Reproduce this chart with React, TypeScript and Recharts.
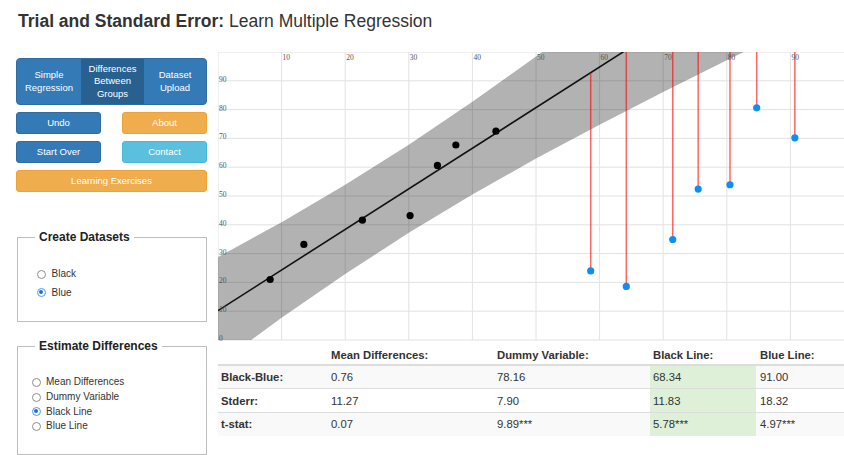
import React from 'react';
import { ComposedChart, Area, Line, Scatter, XAxis, YAxis, CartesianGrid } from 'recharts';

// axis ticks
const xTicks = [0, 10, 20, 30, 40, 50, 60, 70, 80, 90, 100];
const yTicks = [0, 10, 20, 30, 40, 50, 60, 70, 80, 90, 100];

// grey confidence band around the black line
const bandX = [0, 10, 20, 30, 40, 50, 60, 70, 80, 90, 100];
const bandLow = [-8.4, 7.7, 22.9, 37.2, 50.5, 63.0, 74.7, 86.1, 97.1, 108, 119];
const bandHigh = [28.8, 40.9, 53.9, 67.8, 82.7, 98.4, 114.9, 131.7, 148.9, 166, 183];

// black regression line end points
const fitX = [0, 100];
const fitY = [10.2, 151.2];

// black dataset
const blackX = [8.2, 13.5, 22.7, 30.2, 34.5, 37.4, 43.7];
const blackY = [21.0, 33.2, 41.6, 43.2, 60.6, 67.7, 72.5];

// blue dataset
const blueX = [58.6, 64.2, 71.5, 75.5, 80.5, 84.7, 90.7];
const blueY = [24.0, 18.6, 34.9, 52.4, 53.9, 80.6, 70.2];

// results table
const rowLabels = ['Black-Blue:', 'Stderr:', 't-stat:'];
const colHeaders = ['Mean Differences:', 'Dummy Variable:', 'Black Line:', 'Blue Line:'];
const meanDiff = ['0.76', '11.27', '0.07'];
const dummyVar = ['78.16', '7.90', '9.89***'];
const blackLine = ['68.34', '11.83', '5.78***'];
const blueLine = ['91.00', '18.32', '4.97***'];

const bandData = bandX.map((x, i) => ({ x, band: [bandLow[i], bandHigh[i]] }));
const fitData = fitX.map((x, i) => ({ x, y: fitY[i] }));
const blackData = blackX.map((x, i) => ({ x, y: blackY[i] }));
const blueData = blueX.map((x, i) => ({ x, y: blueY[i] }));

const fitAt = (x: number) => fitY[0] + ((fitY[1] - fitY[0]) * (x - fitX[0])) / (fitX[1] - fitX[0]);
// residual segments, separated by null rows so they don't join
const residData = blueX.flatMap((x, i) => [
  { x, y: blueY[i] },
  { x, y: fitAt(x) },
  { x, y: null },
]);

const FONT = '"Liberation Sans", Arial, Helvetica, sans-serif';
const TICK_FONT = '"Liberation Serif", "Times New Roman", serif';

const xTick = (props: any) => {
  const v = props.payload.value;
  if (v === 0 || v === 100) return <g />;
  return (
    <text x={props.x + 1} y={8} fontSize={7.5} fontFamily={TICK_FONT} fill="#555">
      {v}
    </text>
  );
};

const yTick = (props: any) => {
  const v = props.payload.value;
  if (v === 100) return <g />;
  return (
    <text x={1} y={props.y + 1} fontSize={7.5} fontFamily={TICK_FONT} fill="#555">
      {v}
    </text>
  );
};

const Txt = ({ x, cy, children, style }: any) => (
  <div
    style={{
      position: 'absolute',
      left: x,
      top: cy - 8,
      height: 16,
      lineHeight: '16px',
      whiteSpace: 'nowrap',
      ...style,
    }}
  >
    {children}
  </div>
);

const Btn = ({ left, top, width, height, bg, border, children, radius = 3 }: any) => (
  <div
    style={{
      position: 'absolute',
      left,
      top,
      width,
      height,
      background: bg,
      border: `1px solid ${border}`,
      borderRadius: radius,
      boxSizing: 'border-box',
      color: '#fff',
      fontSize: 9.5,
      lineHeight: '12.5px',
      display: 'flex',
      alignItems: 'center',
      justifyContent: 'center',
      textAlign: 'center',
    }}
  >
    {children}
  </div>
);

const Radio = ({ cx, cy, checked, label, gap = 10.5 }: any) => (
  <>
    <div
      style={{
        position: 'absolute',
        left: cx - 4.5,
        top: cy - 4.5,
        width: 9,
        height: 9,
        borderRadius: '50%',
        boxSizing: 'border-box',
        border: checked ? '1.5px solid #4b9bf2' : '1px solid #8d8d8d',
        background: '#fff',
      }}
    >
      {checked && (
        <div
          style={{
            position: 'absolute',
            left: 1,
            top: 1,
            width: 4,
            height: 4,
            borderRadius: '50%',
            background: '#1673e6',
          }}
        />
      )}
    </div>
    <Txt x={cx + gap} cy={cy} style={{ fontSize: 10, color: '#333' }}>
      {label}
    </Txt>
  </>
);

const Fieldset = ({ left, top, width, height, legend, legendX }: any) => (
  <>
    <div
      style={{
        position: 'absolute',
        left,
        top,
        width,
        height,
        border: '1px solid #bdbdbd',
        boxSizing: 'border-box',
      }}
    />
    <Txt
      x={legendX}
      cy={top}
      style={{ fontSize: 12, fontWeight: 'bold', color: '#222', background: '#fff', padding: '0 4px' }}
    >
      {legend}
    </Txt>
  </>
);

const colX = [331, 497, 653, 760];
const colVals = [meanDiff, dummyVar, blackLine, blueLine];
const rowCy = [377.3, 400.7, 424.3];

export default function App() {
  return (
    <div
      style={{
        position: 'fixed',
        left: 0,
        top: 0,
        width: 844,
        height: 455,
        overflow: 'hidden',
        background: '#fff',
        fontFamily: FONT,
        color: '#333',
      }}
    >
      {/* title */}
      <div style={{ position: 'absolute', left: 18, top: 11, fontSize: 17.5, lineHeight: '20px', color: '#333', whiteSpace: 'nowrap' }}>
        <b>Trial and Standard Error:</b> Learn Multiple Regression
      </div>

      {/* navigation buttons */}
      <div
        style={{
          position: 'absolute',
          left: 16,
          top: 58,
          width: 191,
          height: 47,
          borderRadius: 4,
          overflow: 'hidden',
          border: '1px solid #2e6da4',
          boxSizing: 'border-box',
          display: 'flex',
          background: '#337ab7',
          color: '#fff',
          fontSize: 9.5,
          lineHeight: '12.5px',
          textAlign: 'center',
        }}
      >
        <div style={{ width: 64, display: 'flex', alignItems: 'center', justifyContent: 'center' }}>
          Simple<br />Regression
        </div>
        <div style={{ width: 63, display: 'flex', alignItems: 'center', justifyContent: 'center', background: '#286090' }}>
          Differences<br />Between<br />Groups
        </div>
        <div style={{ flex: 1, display: 'flex', alignItems: 'center', justifyContent: 'center' }}>
          Dataset<br />Upload
        </div>
      </div>
      <Btn left={16} top={112} width={85} height={22} bg="#337ab7" border="#2e6da4">Undo</Btn>
      <Btn left={122} top={112} width={85} height={22} bg="#f0ad4e" border="#eea236">About</Btn>
      <Btn left={16} top={141} width={85} height={22} bg="#337ab7" border="#2e6da4">Start Over</Btn>
      <Btn left={122} top={141} width={85} height={22} bg="#5bc0de" border="#46b8da">Contact</Btn>
      <Btn left={16} top={170} width={191} height={22} bg="#f0ad4e" border="#eea236">Learning Exercises</Btn>

      {/* create datasets */}
      <Fieldset left={16.5} top={237} width={190} height={85} legend="Create Datasets" legendX={35} />
      <Radio cx={41} cy={274.3} checked={false} label="Black" gap={10.5} />
      <Radio cx={41} cy={292.7} checked={true} label="Blue" gap={10.5} />

      {/* estimate differences */}
      <Fieldset left={16.5} top={345.5} width={190} height={109} legend="Estimate Differences" legendX={35} />
      <Radio cx={36} cy={382.3} checked={false} label="Mean Differences" gap={10} />
      <Radio cx={36} cy={397.3} checked={false} label="Dummy Variable" gap={10} />
      <Radio cx={36} cy={411.7} checked={true} label="Black Line" gap={10} />
      <Radio cx={36} cy={426} checked={false} label="Blue Line" gap={10} />

      {/* chart */}
      <div style={{ position: 'absolute', left: 218, top: 52 }}>
        <ComposedChart width={636} height={291} margin={{ top: 0, right: 0, bottom: 3, left: 0 }}>
          <CartesianGrid stroke="#e2e2e2" />
          <XAxis
            type="number"
            dataKey="x"
            domain={[0, 100]}
            ticks={xTicks}
            orientation="top"
            mirror
            height={12}
            axisLine={false}
            tickLine={false}
            interval={0}
            tick={xTick}
            allowDataOverflow
          />
          <YAxis
            type="number"
            dataKey="y"
            domain={[0, 100]}
            ticks={yTicks}
            mirror
            width={20}
            axisLine={false}
            tickLine={false}
            interval={0}
            tick={yTick}
            allowDataOverflow
          />
          <Area
            data={bandData}
            dataKey="band"
            type="linear"
            stroke="none"
            fill="#000"
            fillOpacity={0.3}
            isAnimationActive={false}
          />
          <Line
            data={fitData}
            dataKey="y"
            type="linear"
            stroke="#111"
            strokeWidth={1.6}
            dot={false}
            isAnimationActive={false}
          />
          <Line
            data={residData}
            dataKey="y"
            type="linear"
            stroke="#ff0000"
            strokeOpacity={0.6}
            strokeWidth={1.5}
            dot={false}
            isAnimationActive={false}
          />
          <Scatter
            data={blackData}
            dataKey="y"
            fill="#000"
            isAnimationActive={false}
            shape={(p: any) => <circle cx={p.cx} cy={p.cy} r={3.6} fill="#000" />}
          />
          <Scatter
            data={blueData}
            dataKey="y"
            fill="#0d8ef2"
            isAnimationActive={false}
            shape={(p: any) => <circle cx={p.cx} cy={p.cy} r={3.6} fill="#0d8ef2" />}
          />
        </ComposedChart>
      </div>

      {/* results table */}
      <div style={{ position: 'absolute', left: 218, top: 364, width: 626, height: 2, background: '#ddd' }} />
      <div style={{ position: 'absolute', left: 218, top: 366, width: 626, height: 22, background: '#f9f9f9' }} />
      <div style={{ position: 'absolute', left: 218, top: 388, width: 626, height: 1, background: '#ddd' }} />
      <div style={{ position: 'absolute', left: 218, top: 412, width: 626, height: 1, background: '#ddd' }} />
      <div style={{ position: 'absolute', left: 218, top: 413, width: 626, height: 23, background: '#f9f9f9' }} />
      <div style={{ position: 'absolute', left: 650, top: 366, width: 106, height: 22, background: '#dff0d8' }} />
      <div style={{ position: 'absolute', left: 650, top: 389, width: 106, height: 23, background: '#dff0d8' }} />
      <div style={{ position: 'absolute', left: 650, top: 413, width: 106, height: 23, background: '#dff0d8' }} />

      {colHeaders.map((h, j) => (
        <Txt key={h} x={colX[j]} cy={355} style={{ fontSize: 11.3, fontWeight: 'bold', color: '#333' }}>
          {h}
        </Txt>
      ))}
      {rowLabels.map((r, i) => (
        <React.Fragment key={r}>
          <Txt x={221} cy={rowCy[i]} style={{ fontSize: 11.3, fontWeight: 'bold', color: '#333' }}>
            {r}
          </Txt>
          {colVals.map((vals, j) => (
            <Txt key={j} x={colX[j]} cy={rowCy[i]} style={{ fontSize: 11.3, color: '#333' }}>
              {vals[i]}
            </Txt>
          ))}
        </React.Fragment>
      ))}
    </div>
  );
}
